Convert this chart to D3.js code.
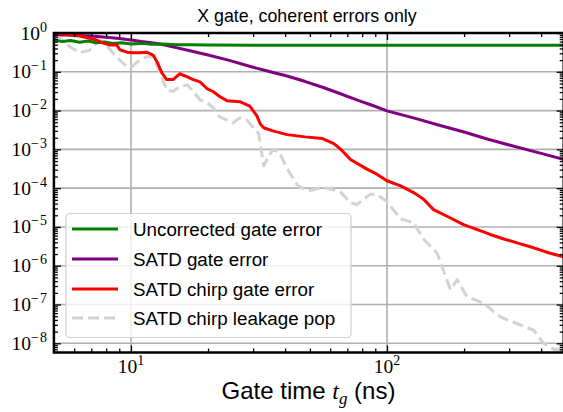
<!DOCTYPE html>
<html><head><meta charset="utf-8">
<script src="https://cdn.jsdelivr.net/npm/d3@7"></script>
<style>body{margin:0;background:#fff}svg{display:block}</style>
</head><body>
<script>
// ---------- data ----------
const uncorrT   = [5,5.4,5.8,6.3,6.8,7.3,7.9,8.5,9.2,10,11,12,13.5,15,17,20,30,50,100,200,490];
const uncorrErr = [0.66,0.6,0.64,0.58,0.62,0.56,0.59,0.54,0.56,0.52,0.54,0.51,0.52,0.5,0.5,0.49,0.48,0.48,0.48,0.48,0.48];

const satdT   = [5,6,7,8,9,10,11,12,13,15,17,20,24,29.5,35,40.7,48,56,65,77.6,88,100,130,160,200,250,300,400,490];
const satdErr = [0.9,0.88,0.84,0.78,0.72,0.66,0.6,0.56,0.52,0.42,0.35,0.27,0.2,0.135,0.1,0.078,0.056,0.04,0.028,0.018,0.0135,0.0098,0.0062,0.0042,0.0028,0.0018,0.0013,0.00079,0.00055];

const chirpT   = [5,5.3,5.8,6.3,6.9,7.35,7.8,8.3,8.8,9.05,9.65,10.2,10.8,11.5,12.2,12.7,13.2,13.8,14.6,15.5,16.6,17.5,18.6,19.8,20.9,22.2,23.7,26.6,29.1,31,32,33,35.8,40.7,47.9,56,62,66,72,83.5,91.3,100,113,127,139,152,177,199,224,253,286,322,374,434,490];
const chirpErr = [0.95,0.95,0.89,0.84,0.73,0.66,0.55,0.49,0.49,0.37,0.32,0.31,0.31,0.32,0.27,0.17,0.094,0.063,0.063,0.089,0.074,0.063,0.055,0.037,0.031,0.023,0.018,0.017,0.013,0.0074,0.0045,0.0036,0.003,0.0024,0.0021,0.0019,0.0014,0.001,0.00055,0.00031,0.00023,0.000155,0.000115,7.7e-5,5.2e-5,2.8e-5,1.7e-5,1.15e-5,8.7e-6,6.4e-6,4.9e-6,3.9e-6,2.9e-6,2.1e-6,1.7e-6];

const leakT   = [5,5.3,5.78,6.3,6.9,7.35,7.8,8.3,9.05,9.65,10.1,10.6,11.5,12.2,13,13.8,14.6,15.5,16.6,17.5,18.6,19.8,20.9,22.2,23.7,25,26.6,28.3,29.9,31.5,33,35.8,38,40.7,44.9,49.4,56,62,66,72,76.4,86,91,100,113,127,139,157,177,188,205,239,277,322,374,409,450,490];
const leakPop = [0.75,0.73,0.44,0.31,0.36,0.55,0.6,0.37,0.2,0.135,0.135,0.18,0.245,0.245,0.093,0.034,0.031,0.041,0.046,0.031,0.019,0.016,0.012,0.0069,0.0057,0.0048,0.0065,0.0057,0.0038,0.0026,0.00038,0.001,0.00085,0.00032,0.000115,8.5e-5,1.05e-4,9e-5,7.8e-5,4.2e-5,3.8e-5,7e-5,7e-5,4.5e-5,1.6e-5,1.3e-5,4.8e-6,2.1e-6,2.4e-7,4.4e-7,1.6e-7,1.07e-7,4.8e-8,3.2e-8,2.2e-8,1e-8,7e-9,6.5e-9];

const seriesNames  = ["Uncorrected gate error","SATD gate error","SATD chirp gate error","SATD chirp leakage pop"];
const seriesColors = ["green","purple","red","lightgray"];
const xMajorExp = [1,2];
const yMajorExp = [0,-1,-2,-3,-4,-5,-6,-7,-8];
const titleText = "X gate, coherent errors only";

// ---------- layout ----------
const W=563,H=412;
const L=53.9,R=563.7,T=33,B=352.5;
const x = d3.scaleLog().domain([5,490]).range([L,R]);
const y = d3.scaleLog().domain([5.8e-9,1]).range([B,T]);

const svg = d3.select("body").append("svg").attr("width",W).attr("height",H);
svg.append("defs").append("clipPath").attr("id","clip")
  .append("rect").attr("x",L).attr("y",T).attr("width",R-L).attr("height",B-T);

// grid
const gGrid = svg.append("g").attr("stroke","#b0b0b0").attr("stroke-width",1.6);
xMajorExp.forEach(e=>gGrid.append("line").attr("x1",x(10**e)).attr("x2",x(10**e)).attr("y1",T).attr("y2",B));
yMajorExp.forEach(e=>gGrid.append("line").attr("y1",y(10**e)).attr("y2",y(10**e)).attr("x1",L).attr("x2",R));

// lines
const series = [
  {t:uncorrT,v:uncorrErr},{t:satdT,v:satdErr},{t:chirpT,v:chirpErr},{t:leakT,v:leakPop}
];
const line = d3.line().x(d=>x(d[0])).y(d=>y(d[1]));
const gLines = svg.append("g").attr("clip-path","url(#clip)");
[3,1,0,2].forEach(i=>{
  const s=series[i];
  const pts=s.t.map((t,k)=>[t,s.v[k]]);
  gLines.append("path").attr("d",line(pts)).attr("fill","none")
    .attr("stroke",seriesColors[i]).attr("stroke-width",3)
    .attr("stroke-linejoin","round")
    .attr("stroke-dasharray",i===3?"11,5":null);
});

// ticks
function minorVals(dom){
  const out=[];const lo=Math.floor(Math.log10(dom[0])),hi=Math.ceil(Math.log10(dom[1]));
  for(let e=lo;e<=hi;e++)for(let m=2;m<=9;m++){const v=m*10**e;if(v>=dom[0]&&v<=dom[1])out.push(v);}
  return out;
}
const xMaj = xMajorExp.map(e=>10**e), yMaj = yMajorExp.map(e=>10**e);
const xMin = minorVals(x.domain()), yMin = minorVals(y.domain());
function ax(gen,tr,vals,size){
  const g=svg.append("g").attr("transform",tr).call(gen.tickValues(vals).tickSize(size).tickFormat(""));
  g.select(".domain").remove();
  g.selectAll(".tick line").attr("stroke","#000").attr("stroke-width",1.3);
  return g;
}
ax(d3.axisBottom(x),`translate(0,${B})`,xMaj,-7);
ax(d3.axisBottom(x),`translate(0,${B})`,xMin,-4);
ax(d3.axisTop(x),`translate(0,${T})`,xMaj,-7);
ax(d3.axisTop(x),`translate(0,${T})`,xMin,-4);
ax(d3.axisLeft(y),`translate(${L},0)`,yMaj,-7);
ax(d3.axisLeft(y),`translate(${L},0)`,yMin,-4);
ax(d3.axisRight(y),`translate(${R},0)`,yMaj,-7);
ax(d3.axisRight(y),`translate(${R},0)`,yMin,-4);

// spines
svg.append("rect").attr("x",L).attr("y",T).attr("width",R-L).attr("height",B-T)
  .attr("fill","none").attr("stroke","#000").attr("stroke-width",2.5);

// tick labels
const serif = "'Liberation Serif', 'DejaVu Serif', serif";
xMajorExp.forEach(e=>{
  const t=svg.append("text").attr("x",x(10**e)).attr("y",373).attr("text-anchor","middle")
    .attr("font-family",serif).attr("font-size",19.5);
  t.append("tspan").text("10");
  t.append("tspan").attr("dy",-8).attr("font-size",14).text(String(e));
});
yMajorExp.forEach(e=>{
  const t=svg.append("text").attr("x",47).attr("y",y(10**e)+6.5).attr("text-anchor","end")
    .attr("font-family",serif).attr("font-size",19.5);
  t.append("tspan").text("10");
  const s=t.append("tspan").attr("dy",-8).attr("font-size",14);
  if(e===0) s.text("0");
  else { s.text("\u2212"); t.append("tspan").attr("dx",1).attr("font-size",14).text(String(Math.abs(e))); }
});

const sans = "'Liberation Sans', Arial, sans-serif";
// title
svg.append("text").attr("x",307).attr("y",22).attr("text-anchor","middle")
  .attr("font-family",sans).attr("font-size",17.8).attr("fill","#000").text(titleText);

// x label
const xl = svg.append("text").attr("x",308.5).attr("y",399).attr("text-anchor","middle")
  .attr("font-family",sans).attr("font-size",24);
xl.append("tspan").text("Gate time ");
xl.append("tspan").attr("font-family",serif).attr("font-style","italic").text("t");
xl.append("tspan").attr("font-family",serif).attr("font-style","italic").attr("font-size",17).attr("dy",4.5).text("g");
xl.append("tspan").attr("dy",-4.5).text(" (ns)");

// legend
const lg = svg.append("g");
lg.append("rect").attr("x",66).attr("y",213.5).attr("width",285).attr("height",124).attr("rx",4)
  .attr("fill","#fff").attr("fill-opacity",0.8).attr("stroke","#d0d0d0").attr("stroke-width",1.2);
const legY=[229,259,289,318];
seriesNames.forEach((n,i)=>{
  lg.append("line").attr("x1",72).attr("x2",118).attr("y1",legY[i]).attr("y2",legY[i])
    .attr("stroke",seriesColors[i]).attr("stroke-width",3).attr("stroke-dasharray",i===3?"11,5":null);
  lg.append("text").attr("x",133).attr("y",legY[i]+7).attr("font-family",sans)
    .attr("font-size",18.8).text(n);
});
</script>
</body></html>
